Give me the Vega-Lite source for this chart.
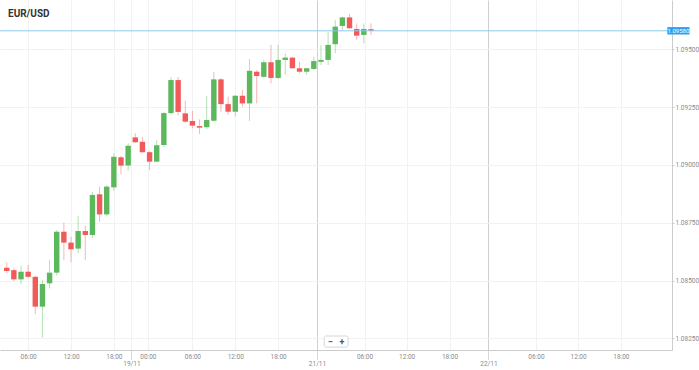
{
  "$schema": "https://vega.github.io/schema/vega-lite/v6.json",
  "width": 672,
  "height": 350,
  "autosize": {"type": "none"},
  "padding": {"left": 0, "top": 0, "right": 27, "bottom": 20},
  "background": "#ffffff",
  "config": {"view": {"stroke": null}, "font": "Roboto"},
  "title": {"text": "EUR/USD", "anchor": "start", "frame": "group", "offset": -19, "dx": 8, "fontSize": 10, "fontWeight": "bold", "color": "#333333"},
  "datasets": {
    "candles": [
      {"t": 0, "o": 1.08555, "h": 1.08578, "l": 1.08532, "c": 1.08541},
      {"t": 1, "o": 1.08545, "h": 1.08554, "l": 1.08498, "c": 1.08505},
      {"t": 2, "o": 1.08505, "h": 1.08563, "l": 1.08484, "c": 1.08538},
      {"t": 3, "o": 1.08538, "h": 1.08567, "l": 1.08513, "c": 1.08516},
      {"t": 4, "o": 1.08516, "h": 1.08520, "l": 1.08355, "c": 1.08387},
      {"t": 5, "o": 1.08387, "h": 1.08502, "l": 1.08254, "c": 1.08485},
      {"t": 6, "o": 1.08488, "h": 1.08589, "l": 1.08466, "c": 1.08534},
      {"t": 7, "o": 1.08534, "h": 1.08718, "l": 1.08521, "c": 1.08711},
      {"t": 8, "o": 1.08711, "h": 1.08750, "l": 1.08589, "c": 1.08664},
      {"t": 9, "o": 1.08664, "h": 1.08689, "l": 1.08579, "c": 1.08635},
      {"t": 10, "o": 1.08638, "h": 1.08779, "l": 1.08618, "c": 1.08714},
      {"t": 11, "o": 1.08714, "h": 1.08736, "l": 1.08589, "c": 1.08697},
      {"t": 12, "o": 1.08697, "h": 1.08883, "l": 1.08684, "c": 1.08870},
      {"t": 13, "o": 1.08873, "h": 1.08906, "l": 1.08754, "c": 1.08786},
      {"t": 14, "o": 1.08786, "h": 1.08913, "l": 1.08779, "c": 1.08906},
      {"t": 15, "o": 1.08903, "h": 1.09050, "l": 1.08887, "c": 1.09035},
      {"t": 16, "o": 1.09033, "h": 1.09039, "l": 1.08959, "c": 1.08997},
      {"t": 17, "o": 1.08997, "h": 1.09093, "l": 1.08975, "c": 1.09083},
      {"t": 18, "o": 1.09119, "h": 1.09137, "l": 1.09095, "c": 1.09098},
      {"t": 19, "o": 1.09100, "h": 1.09122, "l": 1.09052, "c": 1.09055},
      {"t": 20, "o": 1.09055, "h": 1.09060, "l": 1.08978, "c": 1.09014},
      {"t": 21, "o": 1.09014, "h": 1.09108, "l": 1.09013, "c": 1.09085},
      {"t": 22, "o": 1.09086, "h": 1.09229, "l": 1.09077, "c": 1.09224},
      {"t": 23, "o": 1.09224, "h": 1.09380, "l": 1.09220, "c": 1.09367},
      {"t": 24, "o": 1.09367, "h": 1.09380, "l": 1.09215, "c": 1.09229},
      {"t": 25, "o": 1.09223, "h": 1.09278, "l": 1.09181, "c": 1.09187},
      {"t": 26, "o": 1.09190, "h": 1.09233, "l": 1.09158, "c": 1.09170},
      {"t": 27, "o": 1.09168, "h": 1.09197, "l": 1.09134, "c": 1.09161},
      {"t": 28, "o": 1.09163, "h": 1.09298, "l": 1.09155, "c": 1.09194},
      {"t": 29, "o": 1.09191, "h": 1.09403, "l": 1.09186, "c": 1.09370},
      {"t": 30, "o": 1.09370, "h": 1.09376, "l": 1.09230, "c": 1.09263},
      {"t": 31, "o": 1.09263, "h": 1.09295, "l": 1.09216, "c": 1.09230},
      {"t": 32, "o": 1.09230, "h": 1.09302, "l": 1.09209, "c": 1.09299},
      {"t": 33, "o": 1.09299, "h": 1.09324, "l": 1.09252, "c": 1.09266},
      {"t": 34, "o": 1.09266, "h": 1.09458, "l": 1.09190, "c": 1.09407},
      {"t": 35, "o": 1.09403, "h": 1.09410, "l": 1.09266, "c": 1.09384},
      {"t": 36, "o": 1.09381, "h": 1.09454, "l": 1.09376, "c": 1.09444},
      {"t": 37, "o": 1.09444, "h": 1.09519, "l": 1.09353, "c": 1.09376},
      {"t": 38, "o": 1.09376, "h": 1.09519, "l": 1.09372, "c": 1.09454},
      {"t": 39, "o": 1.09454, "h": 1.09483, "l": 1.09389, "c": 1.09464},
      {"t": 40, "o": 1.09464, "h": 1.09467, "l": 1.09417, "c": 1.09418},
      {"t": 41, "o": 1.09418, "h": 1.09446, "l": 1.09396, "c": 1.09403},
      {"t": 42, "o": 1.09403, "h": 1.09419, "l": 1.09389, "c": 1.09418},
      {"t": 43, "o": 1.09415, "h": 1.09468, "l": 1.09410, "c": 1.09449},
      {"t": 44, "o": 1.09446, "h": 1.09519, "l": 1.09432, "c": 1.09454},
      {"t": 45, "o": 1.09454, "h": 1.09576, "l": 1.09432, "c": 1.09519},
      {"t": 46, "o": 1.09522, "h": 1.09627, "l": 1.09483, "c": 1.09598},
      {"t": 47, "o": 1.09601, "h": 1.09641, "l": 1.09583, "c": 1.09638},
      {"t": 48, "o": 1.09638, "h": 1.09653, "l": 1.09588, "c": 1.09591},
      {"t": 49, "o": 1.09588, "h": 1.09612, "l": 1.09540, "c": 1.09559},
      {"t": 50, "o": 1.09562, "h": 1.09612, "l": 1.09526, "c": 1.09588},
      {"t": 51, "o": 1.09587, "h": 1.09612, "l": 1.09562, "c": 1.09580}
    ],
    "price": [{"p": 1.0958, "label": "1.09580"}],
    "zoomctl": [{"sym": "−", "pos": 45.3}, {"sym": "+", "pos": 46.95}]
  },
  "layer": [
    {
      "data": {"name": "candles"},
      "mark": {"type": "rule", "opacity": 0.45, "strokeWidth": 1},
      "encoding": {
        "x": {
          "field": "t", "type": "quantitative",
          "scale": {"domain": [-0.2414, 92.45], "nice": false, "zero": false},
          "axis": {
            "title": null,
            "values": [3, 9, 15, 17.46, 19.76, 26, 32, 38, 43.44, 50.1, 56, 62, 67.44, 74.1, 80, 86],
            "labelExpr": "['06:00','12:00','18:00','19/11','00:00','06:00','12:00','18:00','21/11','06:00','12:00','18:00','22/11','06:00','12:00','18:00'][indexof([3, 9, 15, 17.46, 19.76, 26, 32, 38, 43.44, 50.1, 56, 62, 67.44, 74.1, 80, 86], datum.value)]",
            "labelFontSize": 6.5,
            "labelColor": "#8a8a8a",
            "labelFlush": false,
            "labelOverlap": false,
            "domainColor": "#cccccc",
            "grid": true,
            "gridColor": {"condition": {"test": "datum.value == 43.44 || datum.value == 67.44", "value": "#cfcfcf"}, "value": "#f2f2f2"},
            "tickSize": {"condition": {"test": "datum.value == 17.46 || datum.value == 43.44 || datum.value == 67.44", "value": 9}, "value": 0},
            "tickDash": [1, 1],
            "tickColor": "#b0b0b0",
            "labelPadding": {"condition": {"test": "datum.value == 17.46 || datum.value == 43.44 || datum.value == 67.44", "value": 1}, "value": 3}
          }
        },
        "y": {
          "field": "l", "type": "quantitative",
          "scale": {"domain": [1.081995, 1.097132], "nice": false, "zero": false},
          "axis": {
            "title": null,
            "orient": "right",
            "values": [1.0825, 1.085, 1.0875, 1.09, 1.0925, 1.095],
            "format": ".5f",
            "labelFontSize": 6.5,
            "labelColor": "#8a8a8a",
            "labelPadding": 1,
            "domainColor": "#cccccc",
            "tickColor": "#cccccc",
            "tickSize": 2,
            "grid": true,
            "gridColor": "#f2f2f2"
          }
        },
        "y2": {"field": "h"},
        "color": {"condition": {"test": "datum.c >= datum.o", "value": "#5cb85c"}, "value": "#f25a5a"}
      }
    },
    {
      "data": {"name": "candles"},
      "mark": {"type": "bar", "width": 5.4},
      "encoding": {
        "x": {"field": "t", "type": "quantitative", "scale": {"domain": [-0.2414, 92.45], "nice": false, "zero": false}},
        "y": {"field": "o", "type": "quantitative", "scale": {"domain": [1.081995, 1.097132], "nice": false, "zero": false}},
        "y2": {"field": "c"},
        "color": {"condition": {"test": "datum.c >= datum.o", "value": "#5cb85c"}, "value": "#f25a5a"}
      }
    },
    {
      "data": {"name": "price"},
      "mark": {"type": "rule", "color": "#8ccaf0", "strokeWidth": 1},
      "encoding": {
        "y": {"field": "p", "type": "quantitative", "scale": {"domain": [1.081995, 1.097132], "nice": false, "zero": false}}
      }
    },
    {
      "data": {"name": "price"},
      "mark": {"type": "rect", "color": "#2f9ff0"},
      "encoding": {
        "x": {"datum": 92.5, "type": "quantitative", "scale": {"domain": [-0.2414, 92.45], "nice": false, "zero": false}},
        "x2": {"datum": 95.6},
        "y": {"datum": 1.09596, "type": "quantitative", "scale": {"domain": [1.081995, 1.097132], "nice": false, "zero": false}},
        "y2": {"datum": 1.09564}
      }
    },
    {
      "data": {"name": "price"},
      "mark": {"type": "text", "color": "#ffffff", "fontSize": 6, "align": "center", "baseline": "middle"},
      "encoding": {
        "x": {"datum": 94.05, "type": "quantitative", "scale": {"domain": [-0.2414, 92.45], "nice": false, "zero": false}},
        "y": {"field": "p", "type": "quantitative", "scale": {"domain": [1.081995, 1.097132], "nice": false, "zero": false}},
        "text": {"field": "label"}
      }
    },
    {
      "data": {"name": "price"},
      "mark": {"type": "rect", "fill": "#ffffff", "stroke": "#d6d6d6", "strokeWidth": 1, "cornerRadius": 2},
      "encoding": {
        "x": {"datum": 44.45, "type": "quantitative", "scale": {"domain": [-0.2414, 92.45], "nice": false, "zero": false}},
        "x2": {"datum": 47.8},
        "y": {"datum": 1.0826, "type": "quantitative", "scale": {"domain": [1.081995, 1.097132], "nice": false, "zero": false}},
        "y2": {"datum": 1.08212}
      }
    },
    {
      "data": {"name": "zoomctl"},
      "mark": {"type": "text", "color": "#555555", "fontSize": 9, "fontWeight": "bold", "align": "center", "baseline": "middle"},
      "encoding": {
        "x": {"field": "pos", "type": "quantitative", "scale": {"domain": [-0.2414, 92.45], "nice": false, "zero": false}},
        "y": {"datum": 1.08236, "type": "quantitative", "scale": {"domain": [1.081995, 1.097132], "nice": false, "zero": false}},
        "text": {"field": "sym"}
      }
    }
  ]
}
